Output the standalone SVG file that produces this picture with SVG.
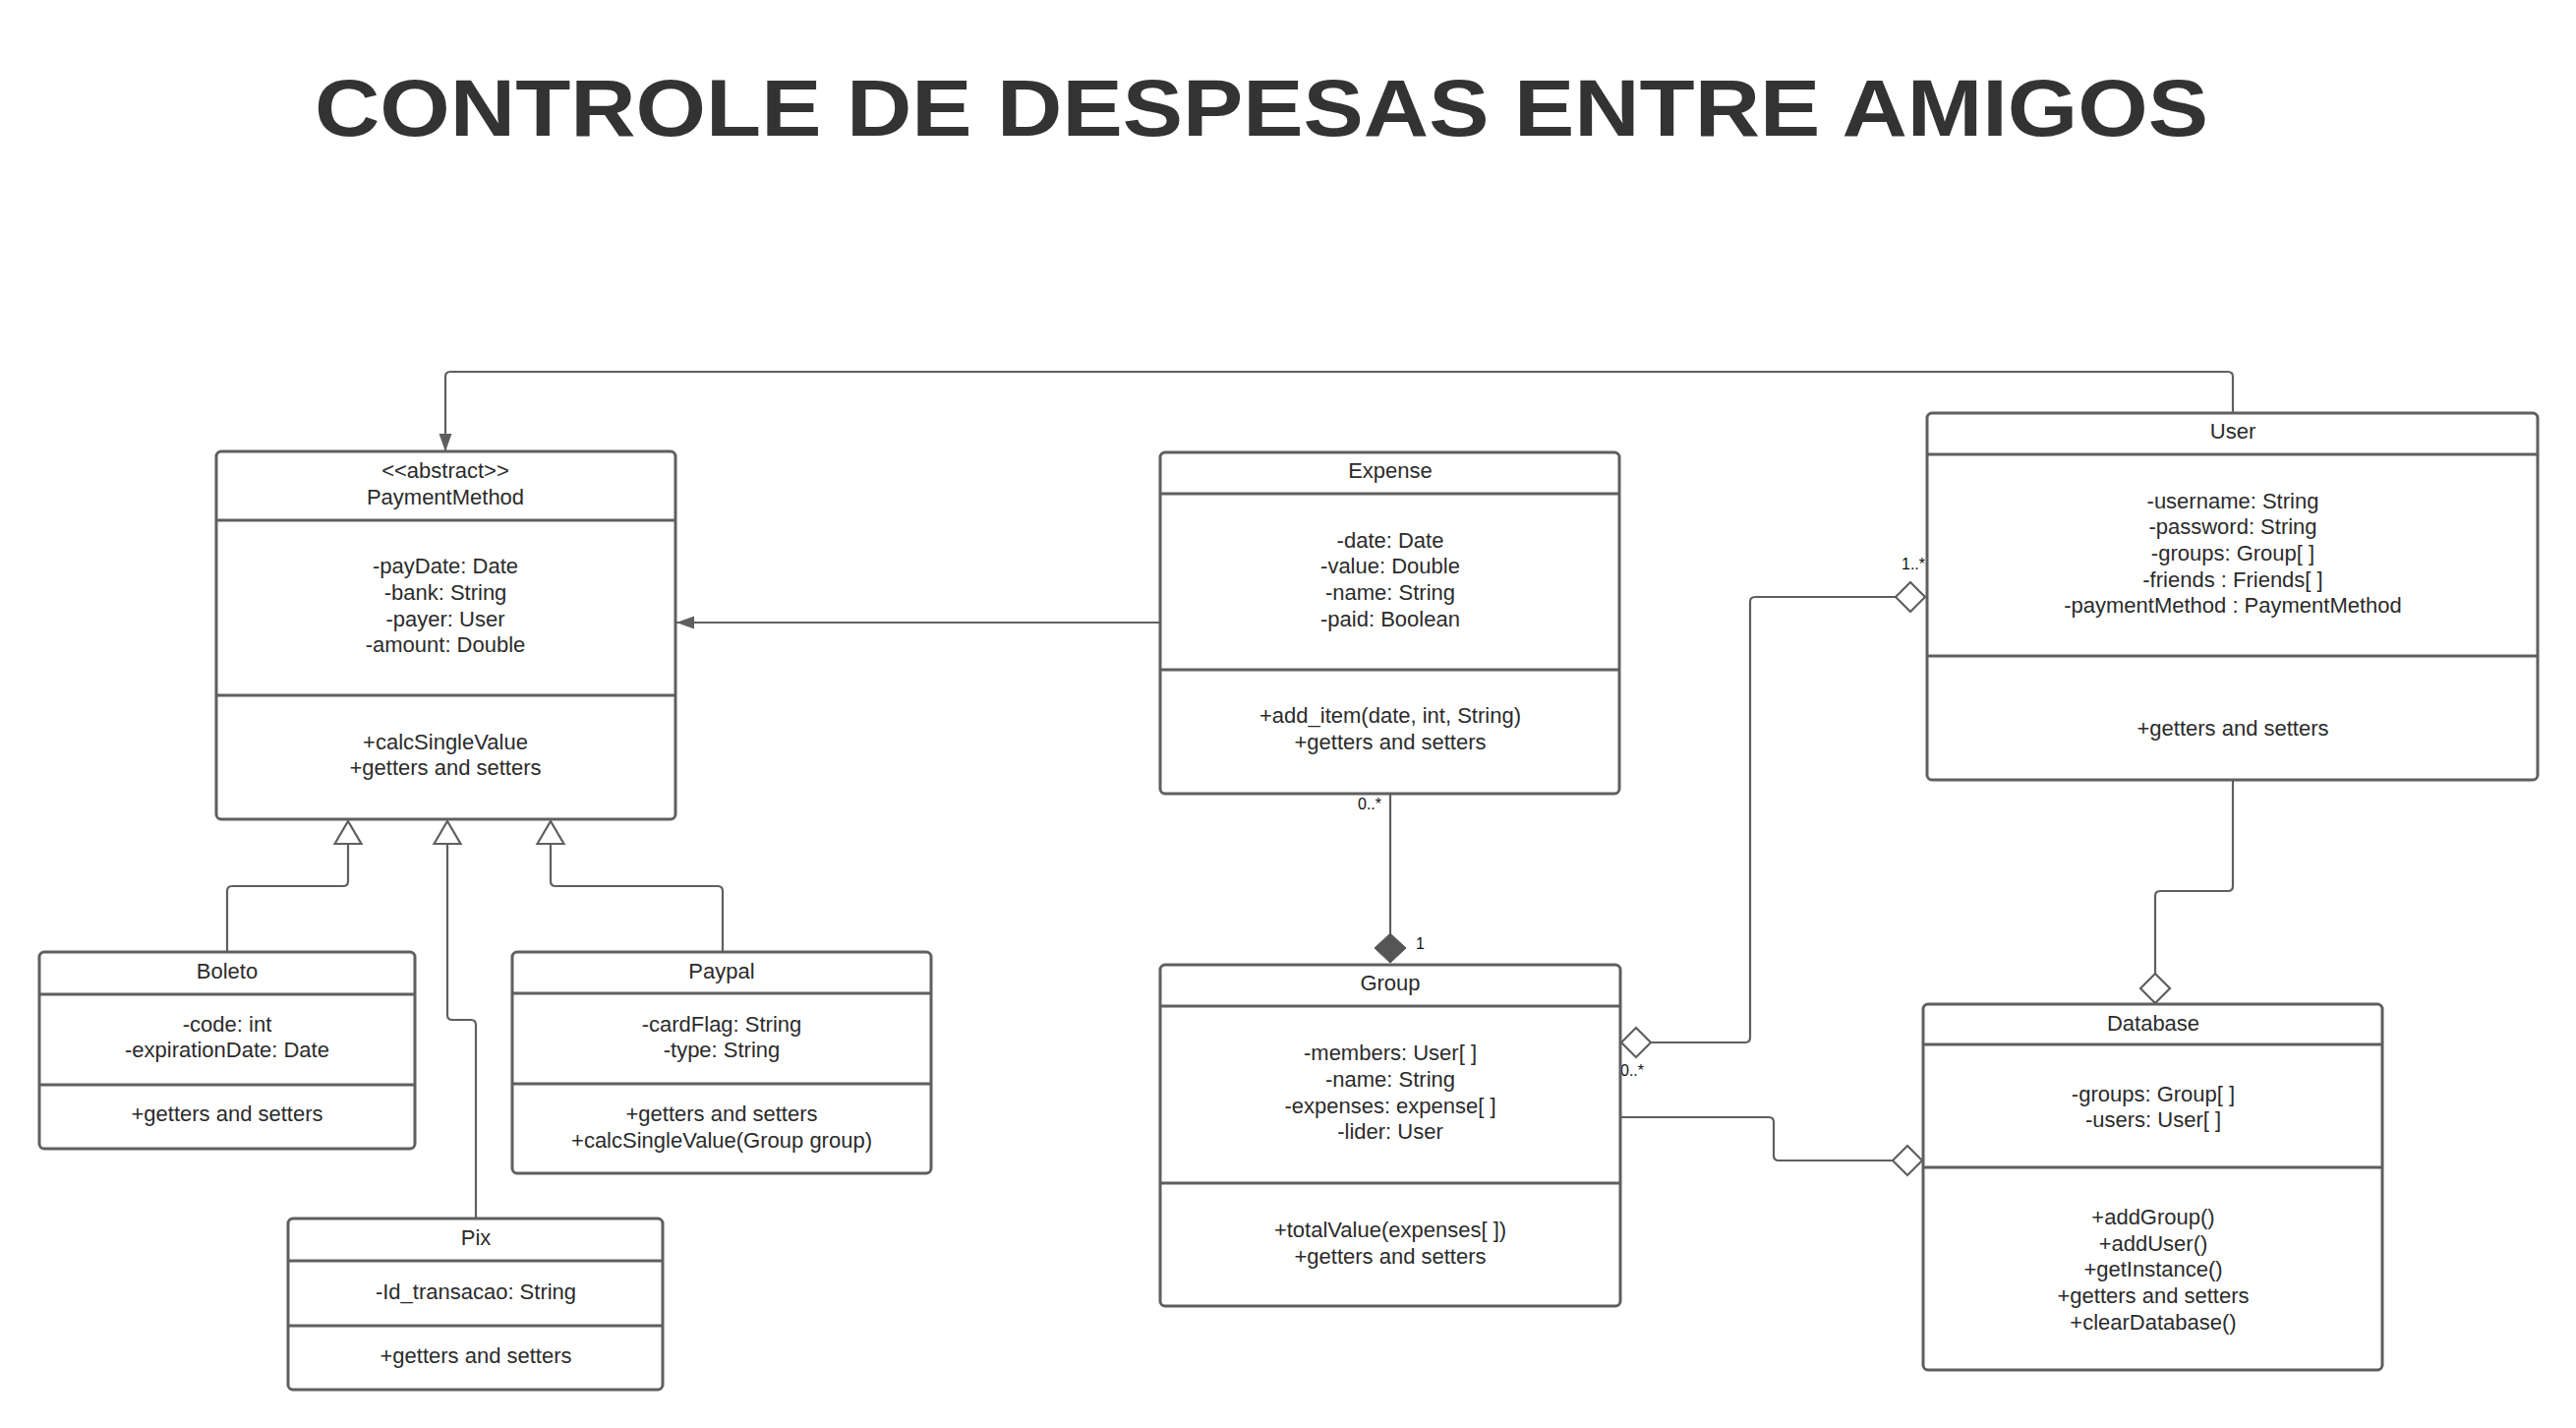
<svg xmlns="http://www.w3.org/2000/svg" width="2620" height="1452" viewBox="0 0 2620 1452">
<style>
.bg{fill:#ffffff}
.box{fill:#ffffff;stroke:#5f5f5f;stroke-width:3}
.div{stroke:#5f5f5f;stroke-width:3}
.t{font-family:"Liberation Sans",Arial,sans-serif;font-size:22px;fill:#2b2b2b;text-anchor:middle}
.lbl{font-family:"Liberation Sans",Arial,sans-serif;font-size:16px;fill:#111111}
.con{fill:none;stroke:#5f5f5f;stroke-width:2.2;stroke-linejoin:round}
.title{font-family:"Liberation Sans",Arial,sans-serif;font-weight:bold;font-size:82px;fill:#333333}
</style>
<defs>
<marker id="arrow" markerUnits="userSpaceOnUse" markerWidth="20" markerHeight="14" refX="18" refY="6.5" orient="auto" overflow="visible">
<path d="M0,0 L18,6.5 L0,13 z" fill="#5f5f5f"/>
</marker>
<marker id="tri" markerUnits="userSpaceOnUse" markerWidth="26" markerHeight="30" refX="23" refY="13.5" orient="auto" overflow="visible">
<path d="M0,0 L23,13.5 L0,27 z" fill="#ffffff" stroke="#5f5f5f" stroke-width="2.2"/>
</marker>
<marker id="dia" markerUnits="userSpaceOnUse" markerWidth="32" markerHeight="32" refX="30" refY="15" orient="auto-start-reverse" overflow="visible">
<path d="M0,15 L15,0 L30,15 L15,30 z" fill="#ffffff" stroke="#5f5f5f" stroke-width="2.2"/>
</marker>
<marker id="diaf" markerUnits="userSpaceOnUse" markerWidth="32" markerHeight="34" refX="30" refY="16" orient="auto" overflow="visible">
<path d="M0,16 L15,0 L30,16 L15,32 z" fill="#555555" stroke="#555555" stroke-width="1"/>
</marker>
</defs>
<rect class="bg" x="0" y="0" width="2620" height="1452"/>
<text class="title" x="320" y="138" textLength="1926" lengthAdjust="spacingAndGlyphs">CONTROLE DE DESPESAS ENTRE AMIGOS</text>

<g id="connectors">
<path class="con" d="M2271 420 V383 Q2271 378 2266 378 H458 Q453 378 453 383 V459" marker-end="url(#arrow)"/>
<path class="con" d="M1180 633 H688" marker-end="url(#arrow)"/>
<path class="con" d="M231 969 V906 Q231 901 236 901 H349 Q354 901 354 896 V835" marker-end="url(#tri)"/>
<path class="con" d="M484 1239 V1042 Q484 1037 479 1037 H460 Q455 1037 455 1032 V835" marker-end="url(#tri)"/>
<path class="con" d="M735 968 V906 Q735 901 730 901 H565 Q560 901 560 896 V835" marker-end="url(#tri)"/>
<path class="con" d="M1414 807 V979" marker-end="url(#diaf)"/>
<path class="con" d="M1649 1060 H1775 Q1780 1060 1780 1055 V612 Q1780 607 1785 607 H1958" marker-start="url(#dia)" marker-end="url(#dia)"/>
<path class="con" d="M1648 1136 H1799 Q1804 1136 1804 1141 V1175 Q1804 1180 1809 1180 H1955" marker-end="url(#dia)"/>
<path class="con" d="M2271 793 V901 Q2271 906 2266 906 H2197 Q2192 906 2192 911 V1020" marker-end="url(#dia)"/>
<text class="lbl" x="1393" y="823" text-anchor="middle">0..*</text>
<text class="lbl" x="1440" y="965">1</text>
<text class="lbl" x="1958" y="579" text-anchor="end">1..*</text>
<text class="lbl" x="1648" y="1094">0..*</text>
</g>

<g id="PaymentMethod">
<rect class="box" x="220" y="459" width="467" height="374" rx="5"/>
<line class="div" x1="220" y1="529" x2="687" y2="529"/>
<line class="div" x1="220" y1="707" x2="687" y2="707"/>
<text class="t" x="453" y="486">&lt;&lt;abstract&gt;&gt;</text>
<text class="t" x="453" y="513">PaymentMethod</text>
<text class="t" x="453" y="583">-payDate: Date</text>
<text class="t" x="453" y="610">-bank: String</text>
<text class="t" x="453" y="637">-payer: User</text>
<text class="t" x="453" y="663">-amount: Double</text>
<text class="t" x="453" y="762">+calcSingleValue</text>
<text class="t" x="453" y="788">+getters and setters</text>
</g>

<g id="Expense">
<rect class="box" x="1180" y="460" width="467" height="347" rx="5"/>
<line class="div" x1="1180" y1="502" x2="1647" y2="502"/>
<line class="div" x1="1180" y1="681" x2="1647" y2="681"/>
<text class="t" x="1414" y="486">Expense</text>
<text class="t" x="1414" y="557">-date: Date</text>
<text class="t" x="1414" y="583">-value: Double</text>
<text class="t" x="1414" y="610">-name: String</text>
<text class="t" x="1414" y="637">-paid: Boolean</text>
<text class="t" x="1414" y="735">+add_item(date, int, String)</text>
<text class="t" x="1414" y="762">+getters and setters</text>
</g>

<g id="User">
<rect class="box" x="1960" y="420" width="621" height="373" rx="5"/>
<line class="div" x1="1960" y1="462" x2="2581" y2="462"/>
<line class="div" x1="1960" y1="667" x2="2581" y2="667"/>
<text class="t" x="2271" y="446">User</text>
<text class="t" x="2271" y="517">-username: String</text>
<text class="t" x="2271" y="543">-password: String</text>
<text class="t" x="2271" y="570">-groups: Group[ ]</text>
<text class="t" x="2271" y="597">-friends : Friends[ ]</text>
<text class="t" x="2271" y="623">-paymentMethod : PaymentMethod</text>
<text class="t" x="2271" y="748">+getters and setters</text>
</g>

<g id="Group">
<rect class="box" x="1180" y="981" width="468" height="347" rx="5"/>
<line class="div" x1="1180" y1="1023" x2="1648" y2="1023"/>
<line class="div" x1="1180" y1="1203" x2="1648" y2="1203"/>
<text class="t" x="1414" y="1007">Group</text>
<text class="t" x="1414" y="1078">-members: User[ ]</text>
<text class="t" x="1414" y="1105">-name: String</text>
<text class="t" x="1414" y="1132">-expenses: expense[ ]</text>
<text class="t" x="1414" y="1158">-lider: User</text>
<text class="t" x="1414" y="1258">+totalValue(expenses[ ])</text>
<text class="t" x="1414" y="1285">+getters and setters</text>
</g>

<g id="Database">
<rect class="box" x="1956" y="1021" width="467" height="372" rx="5"/>
<line class="div" x1="1956" y1="1062" x2="2423" y2="1062"/>
<line class="div" x1="1956" y1="1187" x2="2423" y2="1187"/>
<text class="t" x="2190" y="1048">Database</text>
<text class="t" x="2190" y="1120">-groups: Group[ ]</text>
<text class="t" x="2190" y="1146">-users: User[ ]</text>
<text class="t" x="2190" y="1245">+addGroup()</text>
<text class="t" x="2190" y="1272">+addUser()</text>
<text class="t" x="2190" y="1298">+getInstance()</text>
<text class="t" x="2190" y="1325">+getters and setters</text>
<text class="t" x="2190" y="1352">+clearDatabase()</text>
</g>

<g id="Boleto">
<rect class="box" x="40" y="968" width="382" height="200" rx="5"/>
<line class="div" x1="40" y1="1011" x2="422" y2="1011"/>
<line class="div" x1="40" y1="1103" x2="422" y2="1103"/>
<text class="t" x="231" y="995">Boleto</text>
<text class="t" x="231" y="1049">-code: int</text>
<text class="t" x="231" y="1075">-expirationDate: Date</text>
<text class="t" x="231" y="1140">+getters and setters</text>
</g>

<g id="Paypal">
<rect class="box" x="521" y="968" width="426" height="225" rx="5"/>
<line class="div" x1="521" y1="1010" x2="947" y2="1010"/>
<line class="div" x1="521" y1="1102" x2="947" y2="1102"/>
<text class="t" x="734" y="995">Paypal</text>
<text class="t" x="734" y="1049">-cardFlag: String</text>
<text class="t" x="734" y="1075">-type: String</text>
<text class="t" x="734" y="1140">+getters and setters</text>
<text class="t" x="734" y="1167">+calcSingleValue(Group group)</text>
</g>

<g id="Pix">
<rect class="box" x="293" y="1239" width="381" height="174" rx="5"/>
<line class="div" x1="293" y1="1282" x2="674" y2="1282"/>
<line class="div" x1="293" y1="1348" x2="674" y2="1348"/>
<text class="t" x="484" y="1266">Pix</text>
<text class="t" x="484" y="1321">-Id_transacao: String</text>
<text class="t" x="484" y="1386">+getters and setters</text>
</g>
</svg>
